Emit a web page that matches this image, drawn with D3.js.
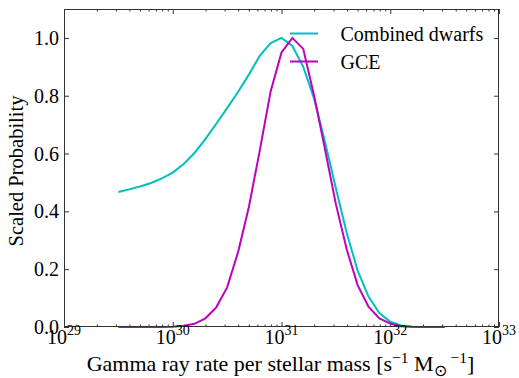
<!DOCTYPE html>
<html><head><meta charset="utf-8">
<script src="https://cdn.jsdelivr.net/npm/d3@7"></script>
<style>
body{margin:0;background:#fff}
svg{display:block}
text{font-family:"Liberation Serif","Times New Roman",serif;fill:#000}
</style>
</head><body>
<svg id="c" width="519" height="378"></svg>
<script>
// log10 of gamma ray rate per stellar mass
const logRate = [29.5, 29.6, 29.7, 29.8, 29.9, 30.0, 30.1, 30.2, 30.3, 30.4,
                 30.5, 30.6, 30.7, 30.8, 30.9, 31.0, 31.1, 31.2, 31.3, 31.4,
                 31.5, 31.6, 31.7, 31.8, 31.9, 32.0, 32.1, 32.2, 32.3, 32.4, 32.5];
const combinedDwarfs = [0.467, 0.476, 0.486, 0.498, 0.514, 0.534, 0.564, 0.602, 0.650, 0.703,
                        0.757, 0.813, 0.873, 0.938, 0.982, 1.000, 0.972, 0.900, 0.790, 0.640,
                        0.480, 0.325, 0.195, 0.105, 0.048, 0.018, 0.005, 0.001, 0.0, 0.0, 0.0];
const gce = [0.0, 0.0, 0.0, 0.0, 0.0003, 0.001, 0.004, 0.011, 0.030, 0.068,
             0.137, 0.258, 0.415, 0.610, 0.815, 0.950, 1.000, 0.962, 0.800, 0.615,
             0.425, 0.268, 0.145, 0.070, 0.030, 0.012, 0.003, 0.001, 0.0, 0.0, 0.0];
const seriesNames = ["Combined dwarfs", "GCE"];
const seriesColors = ["#00bfbf", "#bf00bf"];
const xDecades = [29, 30, 31, 32, 33];
const yTicks = [0.0, 0.2, 0.4, 0.6, 0.8, 1.0];
const yTickLabels = ["0.0", "0.2", "0.4", "0.6", "0.8", "1.0"];

const svg = d3.select("#c");
const L = 64, R = 499, T = 9, B = 327;
const x = d3.scaleLog().domain([1e29, 1e33]).range([L, R]);
const y = d3.scaleLinear().domain([0, 1.1]).range([B, T]);

const majors = xDecades.map(d => Math.pow(10, d));
const minors = [];
xDecades.slice(0, -1).forEach(d => { for (let k = 2; k <= 9; k++) minors.push(k * Math.pow(10, d)); });

const tickColor = "#333";
function styleAxis(g) {
  g.select(".domain").remove();
  g.selectAll("line").attr("stroke", tickColor).attr("stroke-width", 1);
  g.selectAll("text").remove();
}
const MAJ = 5, MIN = 2.5;
svg.append("g").attr("transform", `translate(0,${B})`).call(d3.axisBottom(x).tickValues(majors).tickSizeInner(-MAJ).tickSizeOuter(0)).call(styleAxis);
svg.append("g").attr("transform", `translate(0,${B})`).call(d3.axisBottom(x).tickValues(minors).tickSizeInner(-MIN).tickSizeOuter(0)).call(styleAxis);
svg.append("g").attr("transform", `translate(0,${T})`).call(d3.axisTop(x).tickValues(majors).tickSizeInner(-MAJ).tickSizeOuter(0)).call(styleAxis);
svg.append("g").attr("transform", `translate(0,${T})`).call(d3.axisTop(x).tickValues(minors).tickSizeInner(-MIN).tickSizeOuter(0)).call(styleAxis);
svg.append("g").attr("transform", `translate(${L},0)`).call(d3.axisLeft(y).tickValues(yTicks).tickSizeInner(-MAJ).tickSizeOuter(0)).call(styleAxis);
svg.append("g").attr("transform", `translate(${R},0)`).call(d3.axisRight(y).tickValues(yTicks).tickSizeInner(-MAJ).tickSizeOuter(0)).call(styleAxis);

// data lines
const series = [combinedDwarfs, gce];
const line = d3.line().x((d, i) => x(Math.pow(10, logRate[i]))).y(d => y(d));
const plot = svg.append("g");
series.forEach((s, i) => {
  plot.append("path").datum(s).attr("d", line).attr("fill", "none")
    .attr("stroke", seriesColors[i]).attr("stroke-width", 2).attr("stroke-linejoin", "miter");
});

// frame
svg.append("rect").attr("x", L + 0.5).attr("y", T + 0.5).attr("width", R - L - 1).attr("height", B - T - 1)
  .attr("fill", "none").attr("stroke", tickColor).attr("stroke-width", 1);

// x tick labels
const xl = svg.append("g");
xDecades.forEach((d, i) => {
  const t = xl.append("text").attr("x", x(majors[i])).attr("y", 344).attr("text-anchor", "middle").attr("font-size", 20);
  t.append("tspan").text("10");
  t.append("tspan").attr("dy", -9).attr("font-size", 14).text(String(d));
});
// y tick labels
svg.append("g").selectAll("text").data(yTicks).join("text")
  .attr("x", 59).attr("y", d => y(d)).attr("dy", "0.35em").attr("text-anchor", "end")
  .attr("font-size", 20).text((d, i) => yTickLabels[i]);

// axis labels
svg.append("text").attr("transform", `translate(23,${(T + B) / 2 + 3}) rotate(-90)`)
  .attr("text-anchor", "middle").attr("font-size", 20.5).text("Scaled Probability");
const xt = svg.append("text").attr("x", (L + R) / 2 - 1).attr("y", 371).attr("text-anchor", "middle").attr("font-size", 22);
xt.append("tspan").text("Gamma ray rate per stellar mass [s");
xt.append("tspan").attr("dy", -8).attr("font-size", 15.5).text("\u22121");
xt.append("tspan").attr("dy", 8).text(" M");
xt.append("tspan").attr("dy", 5).attr("font-size", 15.5).text("\u2299");
xt.append("tspan").attr("dy", -13).attr("font-size", 15.5).text(" \u22121");
xt.append("tspan").attr("dy", 8).text("]");

// legend
const lg = svg.append("g");
const legY = [33.5, 61.5];
seriesNames.forEach((n, i) => {
  lg.append("line").attr("x1", 290).attr("x2", 318).attr("y1", legY[i]).attr("y2", legY[i])
    .attr("stroke", seriesColors[i]).attr("stroke-width", 2);
  lg.append("text").attr("x", 340.5).attr("y", legY[i] + 7).attr("font-size", 20).text(n);
});
</script>
</body></html>
